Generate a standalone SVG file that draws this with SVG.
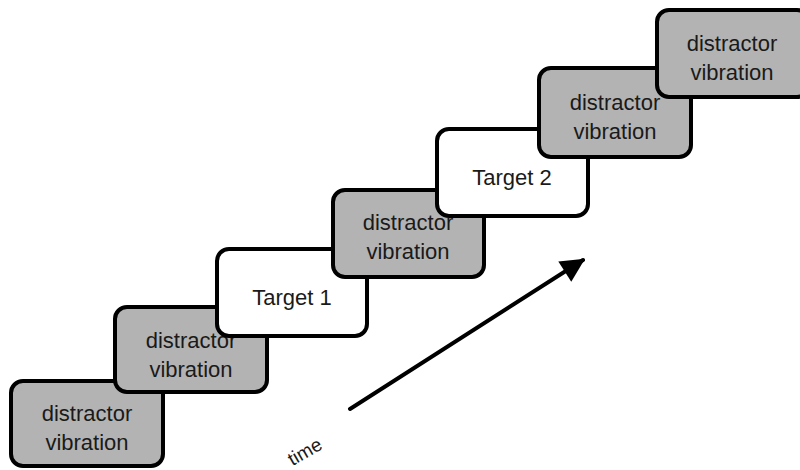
<svg xmlns="http://www.w3.org/2000/svg" width="800" height="470" viewBox="0 0 800 470">
<defs>
<style>
.box{stroke:#000;stroke-width:4;}
.d{fill:#b3b3b3;}
.t{fill:#fff;}
text{font-family:"Liberation Sans",Arial,sans-serif;font-size:22px;fill:#1a1a1a;text-anchor:middle;}
</style>
<marker id="ah" viewBox="0 0 10 10" refX="9" refY="5" markerWidth="6.5" markerHeight="6" markerUnits="strokeWidth" orient="auto">
<path d="M0,0 L10,5 L0,10 z" fill="#000"/>
</marker>
</defs>
<rect width="800" height="470" fill="#fff"/>
<g id="n1"><rect class="box d" x="11" y="381" width="152" height="85" rx="12"/><text x="87" y="421">distractor</text><text x="87" y="450">vibration</text></g>
<g id="n2"><rect class="box d" x="115" y="307" width="152" height="85" rx="12"/><text x="191" y="348">distractor</text><text x="191" y="377">vibration</text></g>
<g id="n3"><rect class="box t" x="217" y="249" width="150" height="87" rx="12"/><text x="292" y="305">Target 1</text></g>
<g id="n4"><rect class="box d" x="333" y="190" width="151" height="87" rx="12"/><text x="408" y="230">distractor</text><text x="408" y="259">vibration</text></g>
<g id="n5"><rect class="box t" x="437" y="129" width="151" height="87" rx="12"/><text x="512" y="185">Target 2</text></g>
<g id="n6"><rect class="box d" x="539" y="68" width="152" height="89" rx="12"/><text x="615" y="110">distractor</text><text x="615" y="139">vibration</text></g>
<g id="n7"><rect class="box d" x="657" y="10" width="152" height="87" rx="12"/><text x="732" y="51">distractor</text><text x="732" y="80">vibration</text></g>
<g id="connectors">
<line x1="350" y1="409" x2="583" y2="260" stroke="#000" stroke-width="4" stroke-linecap="round" marker-end="url(#ah)"/>
</g>
<text x="305" y="458" style="font-size:19px" transform="rotate(-30 305 452)">time</text>
</svg>
